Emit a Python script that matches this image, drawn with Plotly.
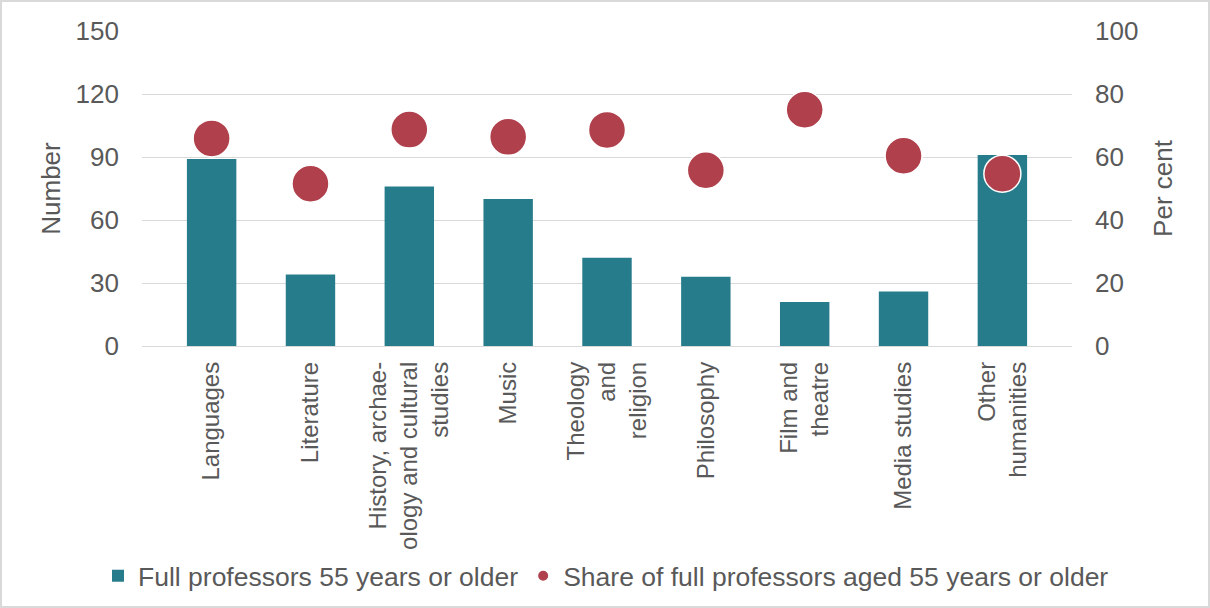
import plotly.graph_objects as go

categories = [
    "Languages",
    "Literature",
    "History, archae-<br>ology and cultural<br>studies",
    "Music",
    "Theology<br>and<br>religion",
    "Philosophy",
    "Film and<br>theatre",
    "Media studies",
    "Other<br>humanities",
]
professors_55_plus = [89, 34, 76, 70, 42, 33, 21, 26, 91]
share_55_plus = [65.9, 51.5, 68.7, 66.4, 68.6, 55.8, 75.0, 60.4, 54.7]

left_ticks = [0, 30, 60, 90, 120, 150]
right_ticks = [0, 20, 40, 60, 80, 100]

BAR = "#277C8B"
DOT = "#B0404C"
TXT = "#595959"
GRID = "#D9D9D9"
FONT = "Arial, Liberation Sans, sans-serif"

fig = go.Figure()
fig.add_trace(go.Bar(
    x=categories, y=professors_55_plus,
    name="Full professors 55 years or older",
    marker=dict(color=BAR, line=dict(width=0)),
    yaxis="y",
))
fig.add_trace(go.Scatter(
    x=categories, y=share_55_plus,
    name="Share of full professors aged 55 years or older",
    mode="markers",
    marker=dict(color=DOT, size=37, line=dict(color="white", width=1.5)),
    yaxis="y2",
))

W, H = 1210, 608
L, R, T, B = 142, 138, 31, 262
pw, ph = W - L - R, H - T - B

fig.update_layout(
    width=W, height=H,
    margin=dict(l=L, r=R, t=T, b=B, pad=0, autoexpand=False),
    paper_bgcolor="white", plot_bgcolor="white",
    font=dict(family=FONT, color=TXT, size=26),
    bargap=0.5,
    showlegend=True,
    legend=dict(
        orientation="h", xref="paper", x=(98 - L) / pw, xanchor="left",
        yref="paper", y=(ph - (576 - T)) / ph, yanchor="middle",
        font=dict(size=26.5, color=TXT), itemsizing="constant",
        traceorder="normal", bgcolor="rgba(0,0,0,0)",
    ),
    xaxis=dict(
        type="category", tickangle=-90, tickfont=dict(size=24, color=TXT),
        showgrid=False, showline=False, ticks="", ticklabelstandoff=10,
        automargin=False,
    ),
    yaxis=dict(
        range=[0, 150], tickvals=left_ticks, showgrid=True, gridcolor=GRID,
        gridwidth=1, zeroline=True, zerolinecolor=GRID, zerolinewidth=1,
        tickfont=dict(size=26, color=TXT), ticks="", ticklabelstandoff=22,
        title=dict(text="Number", font=dict(size=26, color=TXT), standoff=7),
        automargin=False,
    ),
    yaxis2=dict(
        range=[0, 100], tickvals=right_ticks, overlaying="y", side="right",
        showgrid=False, zeroline=False,
        tickfont=dict(size=26, color=TXT), ticks="", ticklabelstandoff=22,
        title=dict(text="Per cent", font=dict(size=26, color=TXT), standoff=16),
        automargin=False,
    ),
    shapes=[dict(
        type="rect", xref="paper", yref="paper", layer="below",
        x0=(1 - L) / pw, x1=(W - 1 - L) / pw,
        y0=(ph - (H - 1 - T)) / ph, y1=(ph - (1 - T)) / ph,
        line=dict(color=GRID, width=2), fillcolor="rgba(0,0,0,0)",
    )],
)

fig.write_html(
    "out.html",
    config={"displayModeBar": False},
    post_script=(
        "document.body.style.margin='0';document.body.style.padding='0';"
        "var gd=document.getElementById('{plot_id}');"
        "Plotly.newPlot(gd, gd.data, gd.layout, {displayModeBar:false});"
    ),
)
